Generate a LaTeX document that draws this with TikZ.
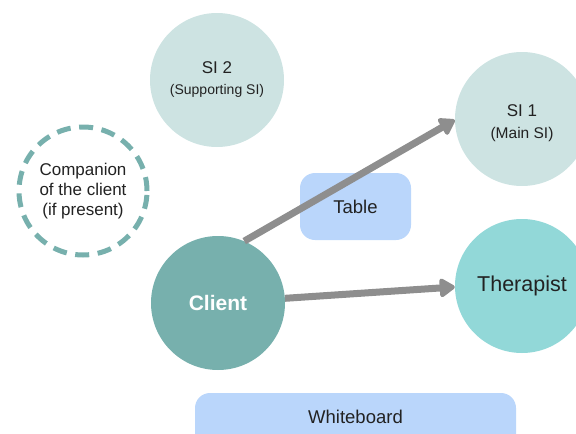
\documentclass[tikz,border=0pt]{standalone}
\usepackage{fontspec}
\setmainfont{Liberation Sans}
\usetikzlibrary{arrows.meta}
\definecolor{sipale}{HTML}{CDE3E2}
\definecolor{therapc}{HTML}{92D8D8}
\definecolor{clientc}{HTML}{77B0AD}
\definecolor{boxc}{HTML}{BAD6FB}
\definecolor{arrowc}{HTML}{8E8E8E}
\definecolor{textc}{HTML}{222222}
\begin{document}
\begin{tikzpicture}[x=1pt,y=-1pt,
  disc/.style={circle,minimum size=134pt,inner sep=0pt,align=center,text=textc},
  furniture/.style={rounded corners=15pt,fill=boxc},
  label/.style={text=textc,font=\fontsize{18.5}{22}\selectfont},
  link/.style={draw=arrowc,line width=7pt,-{Triangle[length=17pt,width=21pt,round]}}]
\useasboundingbox (0,0) rectangle (576,434);
\begin{scope}
\clip (0,0) rectangle (576,434);
% people and interpreters
\node[disc,fill=sipale,font=\fontsize{17}{21}\selectfont] (si2) at (217,80)
  {SI 2\\{\fontsize{14}{21}\selectfont (Supporting SI)}};
\node[disc,fill=sipale] (si1) at (522,119) {};
\node[align=center,text=textc,font=\fontsize{17}{22}\selectfont] (si1text) at (522,123)
  {SI 1\\{\fontsize{15.5}{22}\selectfont (Main SI)}};
\node[disc,fill=therapc,font=\fontsize{21.5}{25}\selectfont] (ther) at (522,286) {Therapist};
\node[disc,fill=clientc,text=white,font=\bfseries\fontsize{21}{25}\selectfont] (client) at (218,303) {Client};
\node[circle,minimum size=128pt,inner sep=0pt,draw=clientc,line width=5pt,
  dash pattern=on 14pt off 8.6pt,align=center,text=textc,
  font=\fontsize{17}{20}\selectfont] (comp) at (83,191)
  {Companion\\of the client\\(if present)};
% furniture
\path[furniture] (300,173) rectangle (411,240);
\node[label] (table) at (355.5,207) {Table};
\path[furniture] (195,393) rectangle (516,450);
\node[label] (board) at (355.5,417) {Whiteboard};
% lines of sight
\draw[link] (client.67) -- (si1.west |- 0,120);
\draw[link] (client.4) -- (ther.west |- 0,287);
\end{scope}
\end{tikzpicture}
\end{document}
